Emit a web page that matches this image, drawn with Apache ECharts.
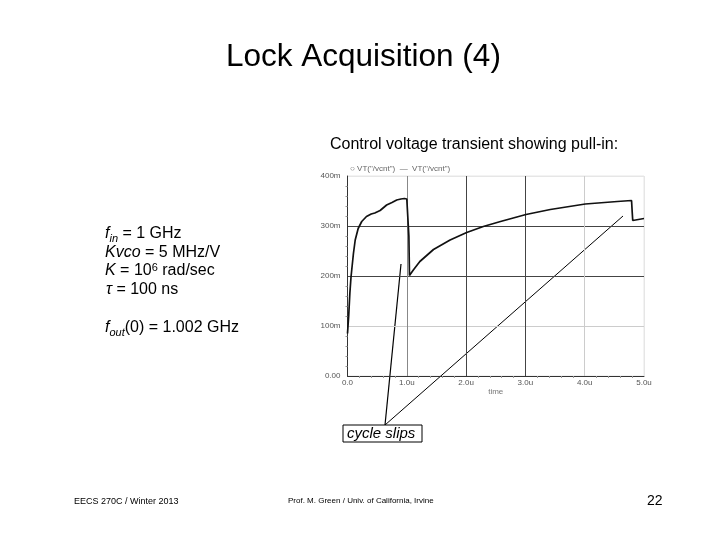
<!DOCTYPE html>
<html>
<head>
<meta charset="utf-8">
<script src="https://cdn.jsdelivr.net/npm/echarts@6/dist/echarts.min.js"></script>
<style>
html,body{margin:0;padding:0;background:#fff;}
#c{width:720px;height:540px;}
</style>
</head>
<body>
<div id="c"></div>
<script>
// ---- data (time in µs, voltage in mV) ----
var timeUs = [0, 0.02, 0.04, 0.06, 0.08, 0.10, 0.13, 0.18, 0.24, 0.32, 0.40, 0.46, 0.55, 0.66, 0.75, 0.83, 0.90, 0.96, 1.00, 1.02, 1.035, 1.045, 1.11, 1.22, 1.45, 1.73, 2.01, 2.29, 2.58, 3.01, 3.42, 4.01, 4.55, 4.79, 4.80, 4.81, 5.0];
var vctrlMv = [85, 120, 166, 199, 222, 245, 272, 295, 309, 319, 324, 326, 331, 342, 347, 352, 354, 355, 354, 350, 280, 201, 212, 229, 253, 272, 287, 299, 309, 323, 333, 344, 349, 351, 330, 311, 315];
var xTickValues = [0, 1, 2, 3, 4, 5];
var xTickLabels = ['0.0', '1.0u', '2.0u', '3.0u', '4.0u', '5.0u'];
var yTickValues = [0, 100, 200, 300, 400];
var yTickLabels = ['0.00', '100m', '200m', '300m', '400m'];

var FONT = "'Liberation Sans', Arial, sans-serif";
var chart = echarts.init(document.getElementById('c'), null, {renderer: 'canvas'});

var pts = timeUs.map(function (t, i) { return [t, vctrlMv[i]]; });

// text measuring for inline sub/superscripts
var mctx = document.createElement('canvas').getContext('2d');
function tw(txt, style, size) {
  mctx.font = (style || 'normal') + ' ' + size + 'px ' + FONT;
  return mctx.measureText(txt).width;
}
function seg(x, y, parts) {
  var out = [];
  var cx = x;
  parts.forEach(function (p) {
    var size = p.size || 16;
    out.push({
      type: 'text', left: cx, top: y + (p.dy || 0) - size / 2,
      style: {text: p.t, fontSize: size, fontStyle: p.it ? 'italic' : 'normal',
              fontFamily: FONT, fill: '#000'}
    });
    cx += tw(p.t, p.it ? 'italic' : 'normal', size);
  });
  return out;
}

var g = [];
g.push({type: 'text', left: 226, top: 41, style: {text: 'Lock Acquisition (4)', fontSize: 31.5, fontFamily: FONT, fill: '#000'}});
g.push({type: 'text', left: 330, top: 137, style: {text: 'Control voltage transient showing pull-in:', fontSize: 16, fontFamily: FONT, fill: '#000'}});
g = g.concat(seg(105, 234, [{t: 'f', it: true}, {t: 'in', it: true, size: 11, dy: 5}, {t: ' = 1 GHz'}]));
g = g.concat(seg(105, 253, [{t: 'Kvco', it: true}, {t: ' = 5 MHz/V'}]));
g = g.concat(seg(105, 271, [{t: 'K', it: true}, {t: ' = 10'}, {t: '6', size: 11, dy: -3}, {t: ' rad/sec'}]));
g = g.concat(seg(106, 290, [{t: 'τ', it: true}, {t: ' = 100 ns'}]));
g = g.concat(seg(105, 328, [{t: 'f', it: true}, {t: 'out', it: true, size: 11, dy: 5}, {t: '(0) = 1.002 GHz'}]));
// legend of the embedded plot
g.push({type: 'text', left: 350, top: 165, style: {text: '○ VT("/vcnt")  —  VT("/vcnt")', fontSize: 8, fontFamily: FONT, fill: '#666'}});
// cycle slips annotation
g.push({type: 'line', shape: {x1: 385, y1: 425, x2: 401, y2: 264}, style: {stroke: '#000', lineWidth: 1.2}});
g.push({type: 'line', shape: {x1: 385, y1: 425, x2: 623, y2: 216}, style: {stroke: '#000', lineWidth: 1}});
g.push({type: 'rect', shape: {x: 343, y: 425, width: 79, height: 17}, style: {fill: '#fff', stroke: '#000', lineWidth: 1}});
g.push({type: 'text', left: 347, top: 426, style: {text: 'cycle slips', fontSize: 15, fontStyle: 'italic', fontFamily: FONT, fill: '#000'}});
// footer
g.push({type: 'text', left: 74, top: 497, style: {text: 'EECS 270C / Winter 2013', fontSize: 9, fontFamily: FONT, fill: '#000'}});
g.push({type: 'text', left: 288, top: 497, style: {text: 'Prof. M. Green / Univ. of California, Irvine', fontSize: 8, fontFamily: FONT, fill: '#000'}});
g.push({type: 'text', left: 647, top: 494, style: {text: '22', fontSize: 14, fontFamily: FONT, fill: '#000'}});

var option = {
  animation: false,
  backgroundColor: '#fff',
  grid: {left: 347.5, right: 76, top: 176, bottom: 164, show: true, borderColor: '#e6e6e6', borderWidth: 1},
  xAxis: {
    type: 'value', min: 0, max: 5, interval: 1,
    name: 'time', nameLocation: 'middle', nameGap: 12,
    nameTextStyle: {fontSize: 8, color: '#777', fontFamily: FONT},
    axisLine: {show: true, lineStyle: {color: '#333', width: 1}},
    axisTick: {show: false},
    minorTick: {show: true, splitNumber: 5, length: 2, lineStyle: {color: '#999'}},
    axisLabel: {fontSize: 8, color: '#555', margin: 3, fontFamily: FONT,
      formatter: function (v) { var i = xTickValues.indexOf(v); return i >= 0 ? xTickLabels[i] : ''; }},
    splitLine: {show: true, lineStyle: {color: ['#ccc', '#888', '#444', '#444', '#ccc', '#e6e6e6'], width: 1}}
  },
  yAxis: {
    type: 'value', min: 0, max: 400, interval: 100,
    axisLine: {show: true, lineStyle: {color: '#333', width: 1}},
    axisTick: {show: false},
    minorTick: {show: true, splitNumber: 5, length: 2, lineStyle: {color: '#999'}},
    axisLabel: {fontSize: 8, color: '#555', margin: 7, fontFamily: FONT,
      formatter: function (v) { var i = yTickValues.indexOf(v); return i >= 0 ? yTickLabels[i] : ''; }},
    splitLine: {show: true, lineStyle: {color: ['#ccc', '#ccc', '#444', '#444', '#e6e6e6'], width: 1}}
  },
  series: [{
    type: 'line', data: pts, showSymbol: false, symbol: 'none',
    lineStyle: {color: '#111', width: 1.7}, z: 3
  }],
  graphic: g
};
chart.setOption(option);
</script>
</body>
</html>
